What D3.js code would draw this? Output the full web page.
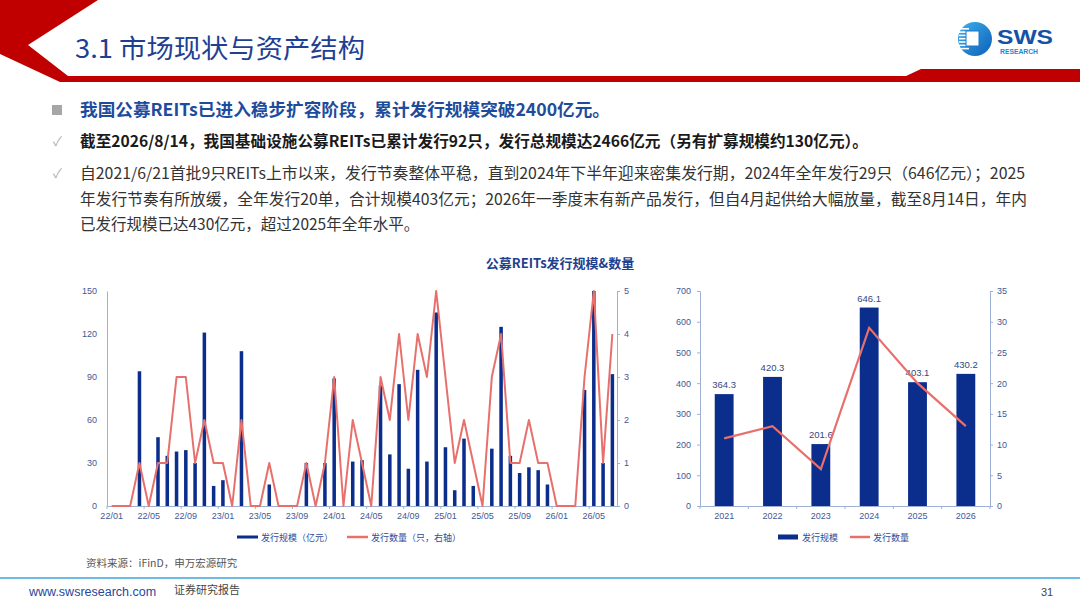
<!DOCTYPE html>
<html>
<head>
  <meta charset="utf-8">
  <title>公募REITs发行规模&数量</title>
  <script src="https://d3js.org/d3.v7.min.js"></script>
  <style>
    body { margin: 0; background: #fff; }
    svg { display: block; }
    text { font-family: "Noto Sans CJK SC", "Noto Sans", sans-serif; }
    .num { font-family: "Liberation Sans", Arial, sans-serif; }
  </style>
</head>
<body>
  <svg id="page" width="1080" height="608"></svg>

  <script>
    // monthly issuance, 22/01 .. 26/07
    const monthScale = [
      0, 0, 0, 94, 0, 48, 35, 38, 39, 30, 121, 14,
      18, 0, 108, 0, 0, 15, 0, 0, 0, 30, 0, 30,
      89, 0, 31, 32, 0, 84, 36, 85, 26, 95, 31, 135,
      41, 11, 47, 14, 0, 40, 125, 35, 23, 27, 25, 15,
      0, 0, 0, 81, 150, 30, 92
    ];
    const monthCount = [
      0, 0, 0, 1, 0, 1, 1, 3, 3, 1, 2, 1,
      1, 0, 2, 0, 0, 1, 0, 0, 0, 1, 0, 1,
      3, 0, 2, 1, 0, 3, 2, 4, 2, 4, 3, 5,
      3, 1, 2, 1, 0, 3, 4, 1, 1, 2, 1, 1,
      0, 0, 0, 3, 5, 1, 4
    ];
    const monthTicks = ["22/01", "22/05", "22/09", "23/01", "23/05", "23/09", "24/01",
                        "24/05", "24/09", "25/01", "25/05", "25/09", "26/01", "26/05"];
    const leftTicks = [0, 30, 60, 90, 120, 150];
    const rightTicks = [0, 1, 2, 3, 4, 5];

    // yearly issuance
    const years = ["2021", "2022", "2023", "2024", "2025", "2026"];
    const yearScale = [364.3, 420.3, 201.6, 646.1, 403.1, 430.2];
    const yearCount = [11, 13, 6, 29, 20, 13];
    const yearScaleTicks = [0, 100, 200, 300, 400, 500, 600, 700];
    const yearCountTicks = [0, 5, 10, 15, 20, 25, 30, 35];

    const months = monthScale.map((d, i) => {
      const y = 22 + Math.floor(i / 12), m = i % 12 + 1;
      return y + "/" + String(m).padStart(2, "0");
    });

    const BLUE = "#0b2d8c", RED = "#e8706c", AXIS = "#9fb0d6", TICK = "#3f5896";
    const fmt = d3.format("d");

    const svg = d3.select("#page");

    // ---------- header ----------
    svg.append("polygon")
      .attr("points", "0,0 98,0 28,45 68,76 906,76 921,69 1080,69 1080,82 60,82 0,54")
      .attr("fill", "#c00000");

    svg.append("text")
      .attr("x", 75).attr("y", 58)
      .attr("font-size", 26)
      .attr("fill", "#1f3f92")
      .attr("textLength", 290).attr("lengthAdjust", "spacingAndGlyphs")
      .text("3.1 市场现状与资产结构");

    // logo
    const grad = svg.append("defs").append("linearGradient")
      .attr("id", "lg").attr("x1", 0).attr("y1", 0).attr("x2", 1).attr("y2", 1);
    grad.append("stop").attr("offset", 0).attr("stop-color", "#3fb0ec");
    grad.append("stop").attr("offset", 1).attr("stop-color", "#0b5fb8");
    const logo = svg.append("g");
    logo.append("circle").attr("cx", 975).attr("cy", 39).attr("r", 17).attr("fill", "url(#lg)");
    d3.range(7).forEach(k => {
      logo.append("rect").attr("x", 959).attr("y", 28 + k * 3.3).attr("width", 10).attr("height", 1.6).attr("fill", "#fff");
    });
    logo.append("rect").attr("x", 966).attr("y", 31).attr("width", 13).attr("height", 15)
      .attr("fill", "#fff").attr("stroke", "#1a78cc").attr("stroke-width", 1);
    logo.append("text").attr("class", "num").attr("x", 997).attr("y", 44)
      .attr("font-size", 21).attr("font-weight", "bold").attr("fill", "#1452a6")
      .attr("textLength", 56).attr("lengthAdjust", "spacingAndGlyphs").text("SWS");
    logo.append("text").attr("class", "num").attr("x", 1000).attr("y", 54)
      .attr("font-size", 6.5).attr("font-weight", "bold").attr("fill", "#1a8ad8")
      .attr("textLength", 38).attr("lengthAdjust", "spacingAndGlyphs").text("RESEARCH");

    // ---------- bullet text ----------
    svg.append("rect").attr("x", 52).attr("y", 105).attr("width", 10).attr("height", 10).attr("fill", "#a6a6a6");
    [141, 173].forEach(y => {
      svg.append("text").attr("x", 53).attr("y", y + 5).attr("font-size", 13).attr("fill", "#b0b0b0").text("✓");
    });

    svg.append("text").attr("x", 80).attr("y", 116)
      .attr("font-size", 17.5).attr("font-weight", "bold").attr("fill", "#1e4c9c")
      .attr("textLength", 530).attr("lengthAdjust", "spacingAndGlyphs")
      .text("我国公募REITs已进入稳步扩容阶段，累计发行规模突破2400亿元。");

    svg.append("text").attr("x", 80).attr("y", 147)
      .attr("font-size", 15.5).attr("font-weight", "bold").attr("fill", "#1a1a1a")
      .attr("textLength", 788).attr("lengthAdjust", "spacingAndGlyphs")
      .text("截至2026/8/14，我国基础设施公募REITs已累计发行92只，发行总规模达2466亿元（另有扩募规模约130亿元）。");

    const para = [
      ["自2021/6/21首批9只REITs上市以来，发行节奏整体平稳，直到2024年下半年迎来密集发行期，2024年全年发行29只（646亿元）；2025", 945],
      ["年发行节奏有所放缓，全年发行20单，合计规模403亿元；2026年一季度末有新产品发行，但自4月起供给大幅放量，截至8月14日，年内", 947],
      ["已发行规模已达430亿元，超过2025年全年水平。", null]
    ];
    para.forEach(([t, w], i) => {
      const el = svg.append("text").attr("x", 80).attr("y", 179 + i * 25.5)
        .attr("font-size", 15.5).attr("fill", "#333").text(t);
      if (w) el.attr("textLength", w).attr("lengthAdjust", "spacingAndGlyphs");
    });

    svg.append("text").attr("x", 560).attr("y", 268).attr("text-anchor", "middle")
      .attr("font-size", 13).attr("font-weight", "bold").attr("fill", "#1f3f8f")
      .text("公募REITs发行规模&数量");

    // ---------- left chart: monthly ----------
    const x = d3.scaleBand().domain(months).range([107, 617]);
    const yL = d3.scaleLinear().domain([0, 150]).range([506, 291]);
    const yR = d3.scaleLinear().domain([0, 5]).range([506, 291]);

    function styleAxis(g) {
      g.select(".domain").attr("stroke", AXIS);
      g.selectAll(".tick line").attr("stroke", AXIS);
      g.selectAll("text").attr("class", "num").attr("font-size", 9).attr("fill", TICK);
    }

    svg.append("g").attr("transform", "translate(107,0)")
      .call(d3.axisLeft(yL).tickValues(leftTicks).tickFormat(fmt).tickSize(0).tickPadding(10).tickSizeOuter(0))
      .call(styleAxis);
    svg.append("g").attr("transform", "translate(617,0)")
      .call(d3.axisRight(yR).tickValues(rightTicks).tickFormat(fmt).tickSize(3).tickPadding(4).tickSizeOuter(0))
      .call(styleAxis);

    const tickMonths = months.filter(m => monthTicks.includes(m));
    const xAxis = svg.append("g").attr("transform", "translate(0,506)")
      .call(d3.axisBottom(x).tickValues(tickMonths).tickSize(0).tickPadding(7).tickSizeOuter(0))
      .call(styleAxis);
    xAxis.selectAll(".tick").append("line")
      .attr("x1", -x.bandwidth() / 2).attr("x2", -x.bandwidth() / 2)
      .attr("y1", 0).attr("y2", 3).attr("stroke", AXIS);

    const bwL = x.bandwidth() * 0.38;
    svg.append("g").selectAll("rect")
      .data(monthScale)
      .join("rect")
      .attr("x", (d, i) => x(months[i]) + x.bandwidth() / 2 - bwL / 2)
      .attr("y", d => yL(d))
      .attr("width", bwL)
      .attr("height", d => yL(0) - yL(d))
      .attr("fill", BLUE);

    svg.append("path")
      .datum(monthCount)
      .attr("fill", "none")
      .attr("stroke", RED)
      .attr("stroke-width", 2)
      .attr("stroke-linejoin", "round")
      .attr("d", d3.line()
        .x((d, i) => x(months[i]) + x.bandwidth() / 2)
        .y(d => yR(d)));

    // left legend
    const legL = svg.append("g").attr("font-size", 9).attr("fill", "#2e4d9a");
    legL.append("line").attr("x1", 237).attr("x2", 258).attr("y1", 537).attr("y2", 537)
      .attr("stroke", BLUE).attr("stroke-width", 3);
    legL.append("text").attr("x", 261).attr("y", 540.5).text("发行规模（亿元）");
    legL.append("line").attr("x1", 347).attr("x2", 368).attr("y1", 537).attr("y2", 537)
      .attr("stroke", RED).attr("stroke-width", 2.5);
    legL.append("text").attr("x", 371).attr("y", 540.5).text("发行数量（只，右轴）");

    // ---------- right chart: yearly ----------
    const xb = d3.scaleBand().domain(years).range([700, 990]);
    const yS = d3.scaleLinear().domain([0, 700]).range([506, 291]);
    const yC = d3.scaleLinear().domain([0, 35]).range([506, 291]);

    svg.append("g").attr("transform", "translate(700,0)")
      .call(d3.axisLeft(yS).tickValues(yearScaleTicks).tickFormat(fmt).tickSize(3).tickPadding(6).tickSizeOuter(0))
      .call(styleAxis);
    svg.append("g").attr("transform", "translate(990,0)")
      .call(d3.axisRight(yC).tickValues(yearCountTicks).tickFormat(fmt).tickSize(3).tickPadding(4).tickSizeOuter(0))
      .call(styleAxis);
    const xAxis2 = svg.append("g").attr("transform", "translate(0,506)")
      .call(d3.axisBottom(xb).tickSize(0).tickPadding(7).tickSizeOuter(0))
      .call(styleAxis);
    xAxis2.selectAll(".tick").append("line")
      .attr("x1", -xb.bandwidth() / 2).attr("x2", -xb.bandwidth() / 2)
      .attr("y1", 0).attr("y2", 3).attr("stroke", AXIS);
    xAxis2.append("line")
      .attr("x1", 990).attr("x2", 990).attr("y1", 0).attr("y2", 3).attr("stroke", AXIS);

    const bwR = xb.bandwidth() * 0.39;
    svg.append("g").selectAll("rect")
      .data(yearScale)
      .join("rect")
      .attr("x", (d, i) => xb(years[i]) + xb.bandwidth() / 2 - bwR / 2)
      .attr("y", d => yS(d))
      .attr("width", bwR)
      .attr("height", d => yS(0) - yS(d))
      .attr("fill", BLUE);

    svg.append("g").selectAll("text")
      .data(yearScale)
      .join("text")
      .attr("class", "num")
      .attr("x", (d, i) => xb(years[i]) + xb.bandwidth() / 2)
      .attr("y", d => yS(d) - 6)
      .attr("text-anchor", "middle")
      .attr("font-size", 9.5)
      .attr("fill", "#33477e")
      .text(d => d.toFixed(1));

    svg.append("path")
      .datum(yearCount)
      .attr("fill", "none")
      .attr("stroke", RED)
      .attr("stroke-width", 2.2)
      .attr("d", d3.line()
        .x((d, i) => xb(years[i]) + xb.bandwidth() / 2)
        .y(d => yC(d)));

    const legR = svg.append("g").attr("font-size", 9).attr("fill", "#2e4d9a");
    legR.append("rect").attr("x", 778).attr("y", 534.5).attr("width", 20).attr("height", 5).attr("fill", BLUE);
    legR.append("text").attr("x", 802).attr("y", 540.5).text("发行规模");
    legR.append("line").attr("x1", 850).attr("x2", 870).attr("y1", 537).attr("y2", 537)
      .attr("stroke", RED).attr("stroke-width", 2.5);
    legR.append("text").attr("x", 873).attr("y", 540.5).text("发行数量");

    // ---------- footer ----------
    svg.append("text").attr("x", 86).attr("y", 567).attr("font-size", 10.5).attr("fill", "#555")
      .text("资料来源：iFinD，申万宏源研究");
    svg.append("line").attr("x1", 0).attr("x2", 1080).attr("y1", 578).attr("y2", 578)
      .attr("stroke", "#3ea6da").attr("stroke-width", 1.5);
    svg.append("text").attr("class", "num").attr("x", 29).attr("y", 596).attr("font-size", 12.5)
      .attr("fill", "#27479a").text("www.swsresearch.com");
    svg.append("text").attr("x", 174).attr("y", 594).attr("font-size", 11).attr("fill", "#444")
      .text("证券研究报告");
    svg.append("text").attr("class", "num").attr("x", 1041).attr("y", 596).attr("font-size", 11)
      .attr("fill", "#444").text("31");
  </script>
</body>
</html>
